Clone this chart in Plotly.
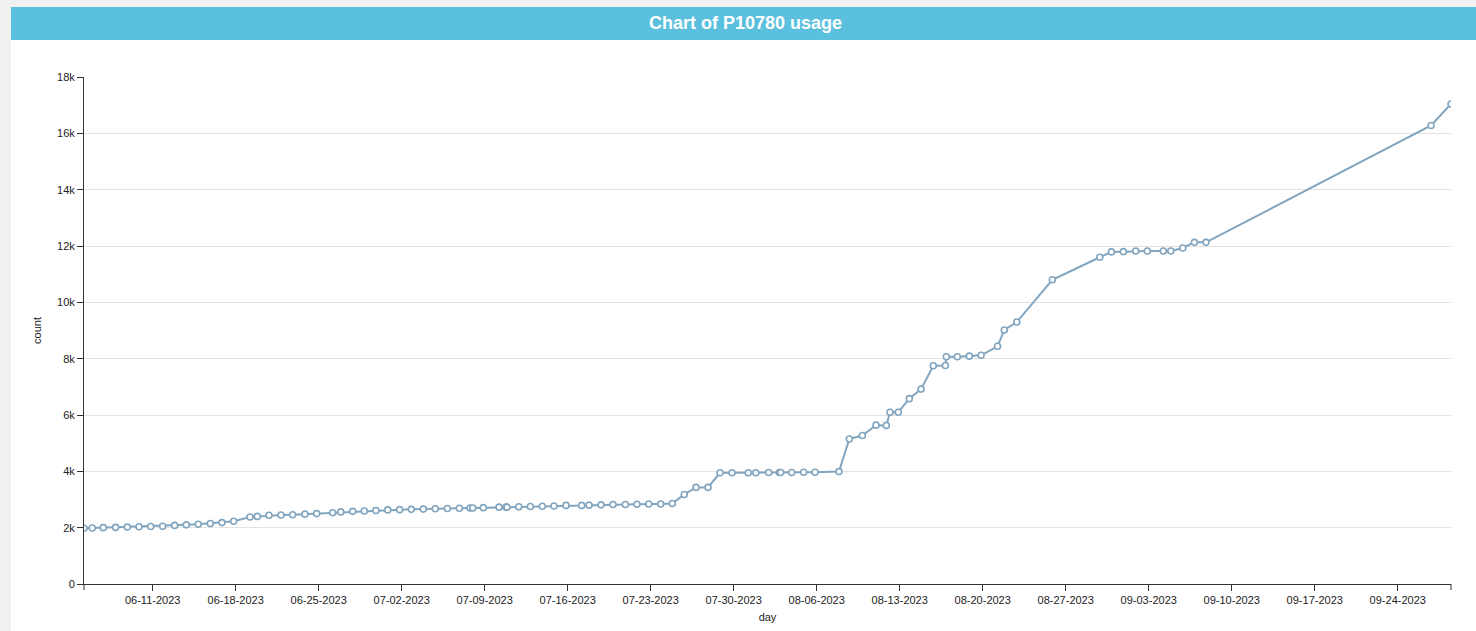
import plotly.graph_objects as go

# ---- data ----
days = [
    "2023-06-05 05:00", "2023-06-05 21:45", "2023-06-06 20:00", "2023-06-07 21:00",
    "2023-06-08 20:36", "2023-06-09 20:17", "2023-06-10 20:00", "2023-06-11 20:14",
    "2023-06-12 20:31", "2023-06-13 20:00", "2023-06-14 20:18", "2023-06-15 20:36",
    "2023-06-16 20:17", "2023-06-17 19:57", "2023-06-19 04:57", "2023-06-19 19:44",
    "2023-06-20 19:24", "2023-06-21 19:41", "2023-06-22 19:24", "2023-06-23 20:12",
    "2023-06-24 19:55", "2023-06-26 04:19", "2023-06-26 20:38", "2023-06-27 20:53",
    "2023-06-28 20:24", "2023-06-29 19:55", "2023-06-30 19:41", "2023-07-01 19:55",
    "2023-07-02 19:26", "2023-07-03 19:41", "2023-07-04 19:55", "2023-07-05 20:24",
    "2023-07-06 20:38", "2023-07-07 18:14", "2023-07-07 23:45", "2023-07-08 21:07",
    "2023-07-10 05:02", "2023-07-10 19:12", "2023-07-10 21:07", "2023-07-11 20:53",
    "2023-07-12 20:24", "2023-07-13 20:38", "2023-07-14 20:10", "2023-07-15 20:38",
    "2023-07-17 04:19", "2023-07-17 19:12", "2023-07-18 19:26", "2023-07-19 19:41",
    "2023-07-20 20:38", "2023-07-21 20:10", "2023-07-22 19:55", "2023-07-23 20:10",
    "2023-07-24 19:41", "2023-07-25 19:55", "2023-07-26 19:41", "2023-07-27 19:55",
    "2023-07-28 20:24", "2023-07-29 20:38", "2023-07-31 05:31", "2023-07-31 20:38",
    "2023-08-01 22:48", "2023-08-02 20:24", "2023-08-02 23:02", "2023-08-03 21:22",
    "2023-08-04 21:36", "2023-08-05 20:38", "2023-08-07 21:07", "2023-08-08 18:00",
    "2023-08-09 20:24", "2023-08-11 00:00", "2023-08-11 20:53", "2023-08-12 04:19",
    "2023-08-12 21:07", "2023-08-13 19:26", "2023-08-14 19:12", "2023-08-15 19:55",
    "2023-08-16 20:24", "2023-08-16 22:19", "2023-08-17 20:38", "2023-08-18 20:53",
    "2023-08-19 20:38", "2023-08-21 06:00", "2023-08-21 19:41", "2023-08-22 20:53",
    "2023-08-25 20:53", "2023-08-29 20:53", "2023-08-30 20:24", "2023-08-31 20:38",
    "2023-09-01 21:36", "2023-09-02 21:07", "2023-09-04 05:31", "2023-09-04 20:38",
    "2023-09-05 20:53", "2023-09-06 20:24", "2023-09-07 19:55", "2023-09-26 19:26",
    "2023-09-28 11:46",
]

counts = [
    1980, 1990, 2000, 2010, 2020, 2030, 2040, 2050, 2080, 2100, 2120, 2150,
    2180, 2230, 2380, 2400, 2440, 2450, 2460, 2480, 2500, 2530, 2560, 2580,
    2590, 2610, 2630, 2640, 2650, 2660, 2670, 2680, 2690, 2700, 2700, 2710,
    2730, 2730, 2730, 2740, 2750, 2760, 2770, 2790, 2790, 2800, 2810, 2820,
    2820, 2830, 2840, 2840, 2860, 3180, 3430, 3430, 3950, 3950, 3950, 3950,
    3960, 3960, 3960, 3960, 3970, 3970, 3990, 5150, 5270, 5640, 5630, 6100,
    6100, 6580, 6920, 7750, 7760, 8070, 8070, 8090, 8120, 8440, 9020, 9300,
    10800, 11600, 11790, 11800, 11820, 11820, 11820, 11820, 11930, 12130, 12130,
    16280, 17040,
]

y_ticks = [0, 2000, 4000, 6000, 8000, 10000, 12000, 14000, 16000, 18000]
y_tick_labels = ["0", "2k", "4k", "6k", "8k", "10k", "12k", "14k", "16k", "18k"]

title_text = "Chart of P10780 usage"

# ---- geometry (pixels) ----
W, H = 1476, 631
L, R, T, B = 84, 25, 77, 47
PW, PH = W - L - R, H - T - B


def px(x):
    return (x - L) / PW


def py(y):
    return (H - B - y) / PH


LINE_COLOR = "#82a5bf"
FONT = "Liberation Sans, Arial, sans-serif"

fig = go.Figure()
fig.add_trace(go.Scatter(
    x=days, y=counts, mode="lines+markers",
    line=dict(color=LINE_COLOR, width=2),
    marker=dict(symbol="circle", size=6, color="white",
                line=dict(color=LINE_COLOR, width=1.6)),
    showlegend=False, hoverinfo="x+y",
))

shapes = [
    # white panel
    dict(type="rect", xref="paper", yref="paper", layer="below",
         x0=px(11), x1=px(W + 5), y0=py(H + 5), y1=py(40),
         fillcolor="white", line=dict(width=0)),
    # blue title bar
    dict(type="rect", xref="paper", yref="paper", layer="below",
         x0=px(11), x1=px(W + 5), y0=py(40), y1=py(7),
         fillcolor="#5bc0de", line=dict(width=0)),
    # outer ticks of the x domain
    dict(type="line", xref="paper", yref="paper", x0=0, x1=0, y0=0, y1=py(H - B + 6),
         line=dict(color="#333333", width=1)),
    dict(type="line", xref="paper", yref="paper", x0=1, x1=1, y0=0, y1=py(H - B + 6),
         line=dict(color="#333333", width=1)),
]

fig.update_layout(
    width=W, height=H, autosize=False,
    margin=dict(l=L, r=R, t=T, b=B, pad=0, autoexpand=False),
    paper_bgcolor="#f1f1f1",
    plot_bgcolor="rgba(0,0,0,0)",
    font=dict(family=FONT, size=11, color="#222222"),
    shapes=shapes,
    annotations=[
        dict(text="<b>" + title_text + "</b>", xref="paper", yref="paper",
             x=px(745), y=py(23), xanchor="center", yanchor="middle", showarrow=False,
             font=dict(family=FONT, size=18, color="white")),
    ],
    xaxis=dict(
        type="date", automargin=False,
        range=[days[0], days[-1]],
        tick0="2023-06-11", dtick=7 * 24 * 3600 * 1000,
        tickformat="%m-%d-%Y",
        ticks="outside", ticklen=6, tickcolor="#333333", tickwidth=1,
        showline=True, linecolor="#333333", linewidth=1,
        showgrid=False, zeroline=False,
        tickfont=dict(size=11, color="#222222"),
        title=dict(text="day", standoff=8, font=dict(size=11, color="#222222")),
    ),
    yaxis=dict(
        automargin=False,
        range=[0, 18000],
        tickvals=y_ticks, ticktext=y_tick_labels,
        ticks="outside", ticklen=6, tickcolor="#333333", tickwidth=1,
        showline=True, linecolor="#333333", linewidth=1,
        showgrid=True, gridcolor="#e3e3e3", gridwidth=1,
        zeroline=False,
        tickfont=dict(size=11, color="#222222"),
        title=dict(text="count", standoff=13, font=dict(size=11, color="#222222")),
    ),
)

fig.write_html(
    "out.html",
    config={"displayModeBar": False, "responsive": False},
    post_script="document.body.style.margin='0';document.body.style.overflow='hidden';",
)
